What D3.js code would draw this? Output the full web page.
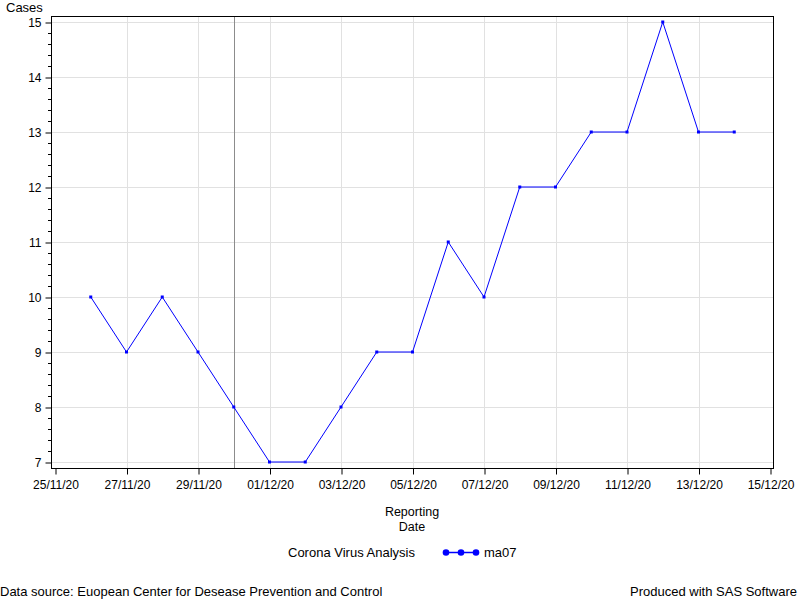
<!DOCTYPE html>
<html><head><meta charset="utf-8">
<script src="https://cdn.jsdelivr.net/npm/d3@7"></script>
<style>body{margin:0;background:#fff}text{font-family:"Liberation Sans",Arial,sans-serif;}</style>
</head><body><svg id="c" width="800" height="600"></svg>
<script>
const dates = ["2020-11-26","2020-11-27","2020-11-28","2020-11-29","2020-11-30","2020-12-01","2020-12-02","2020-12-03","2020-12-04","2020-12-05","2020-12-06","2020-12-07","2020-12-08","2020-12-09","2020-12-10","2020-12-11","2020-12-12","2020-12-13","2020-12-14"];
const ma07 = [10,9,10,9,8,7,7,8,9,9,11,10,12,12,13,13,15,13,13];
const xTickDates = ["2020-11-25","2020-11-27","2020-11-29","2020-12-01","2020-12-03","2020-12-05","2020-12-07","2020-12-09","2020-12-11","2020-12-13","2020-12-15"];
const yTicks = [7,8,9,10,11,12,13,14,15];
const refDate = "2020-11-30";

const svg = d3.select("#c");
const parse = d3.utcParse("%Y-%m-%d");
const fmt = d3.utcFormat("%d/%m/%y");
const L=51, R=773, T=16, B=468;
const day = 86400000;
const dayPx = (770-55)/20;
const d0 = parse("2020-11-25").getTime(), d1 = parse("2020-12-15").getTime();
const x = d3.scaleUtc().domain([new Date(d0 - 4/dayPx*day), new Date(d1 + 3/dayPx*day)]).range([L,R]);
const ppu = (462-22)/8;
const y = d3.scaleLinear().domain([7-6/ppu, 15+6/ppu]).range([B,T]);

// grid
const g = svg.append("g");
g.selectAll(".gx").data(xTickDates.slice(1,-1)).enter().append("line")
 .attr("x1",d=>Math.round(x(parse(d)))+0.5).attr("x2",d=>Math.round(x(parse(d)))+0.5)
 .attr("y1",T).attr("y2",B).attr("stroke","#e1e1e1").attr("stroke-width",1);
g.selectAll(".gy").data(yTicks).enter().append("line")
 .attr("y1",d=>Math.round(y(d))+0.5).attr("y2",d=>Math.round(y(d))+0.5)
 .attr("x1",L).attr("x2",R).attr("stroke","#e1e1e1").attr("stroke-width",1);

// reference line
svg.append("line").attr("x1",Math.round(x(parse(refDate)))+0.5).attr("x2",Math.round(x(parse(refDate)))+0.5)
 .attr("y1",T).attr("y2",B).attr("stroke","#8c8c8c").attr("stroke-width",1);

// frame
svg.append("rect").attr("x",L+0.5).attr("y",T+0.5).attr("width",R-L).attr("height",B-T)
 .attr("fill","none").attr("stroke","#000").attr("stroke-width",1);

// x axis
const xa = svg.append("g").attr("transform",`translate(0.5,${B+0.5})`)
 .call(d3.axisBottom(x).tickValues(xTickDates.map(parse)).tickFormat(fmt).tickSize(6).tickPadding(6));
xa.select(".domain").remove();
xa.selectAll("text").attr("font-size",12).attr("fill","#000").attr("font-family","Liberation Sans, Arial, sans-serif");
xa.selectAll("line").attr("stroke","#000");

// y axis
const minor = d3.range(7,15.001,0.2).filter(v=>Math.abs(v-Math.round(v))>1e-6);
svg.append("g").selectAll("line").data(minor).enter().append("line")
 .attr("x1",L-3).attr("x2",L).attr("y1",d=>Math.round(y(d))+0.5).attr("y2",d=>Math.round(y(d))+0.5).attr("stroke","#000");
const ya = svg.append("g").attr("transform",`translate(${L+0.5},0.5)`)
 .call(d3.axisLeft(y).tickValues(yTicks).tickFormat(d3.format("d")).tickSize(6).tickPadding(4));
ya.select(".domain").remove();
ya.selectAll("text").attr("font-size",12).attr("fill","#000").attr("font-family","Liberation Sans, Arial, sans-serif");
ya.selectAll("line").attr("stroke","#000");

// series
const pts = dates.map((d,i)=>[x(parse(d)), y(ma07[i])]);
svg.append("path").attr("d",d3.line()(pts)).attr("fill","none").attr("stroke","#0000ff").attr("stroke-width",1);
svg.append("g").selectAll("rect").data(pts).enter().append("rect")
 .attr("x",d=>d[0]-1.5).attr("y",d=>d[1]-1.5).attr("width",3).attr("height",3).attr("fill","#0000ff");

// labels
svg.append("text").attr("x",6).attr("y",12).attr("font-size",13).text("Cases");
svg.append("text").attr("x",412).attr("y",516).attr("text-anchor","middle").attr("font-size",12.5).text("Reporting");
svg.append("text").attr("x",412).attr("y",531).attr("text-anchor","middle").attr("font-size",12.5).text("Date");

// legend
svg.append("text").attr("x",288).attr("y",557).attr("font-size",13).text("Corona Virus Analysis");
svg.append("line").attr("x1",445).attr("x2",477).attr("y1",552.5).attr("y2",552.5).attr("stroke","#0000ff").attr("stroke-width",1.5);
[446,461,476].forEach(cx=>svg.append("circle").attr("cx",cx).attr("cy",552.5).attr("r",3.3).attr("fill","#0000ff"));
svg.append("text").attr("x",484).attr("y",557).attr("font-size",13).text("ma07");

// footer
svg.append("text").attr("x",0).attr("y",596).attr("font-size",13).text("Data source: Euopean Center for Desease Prevention and Control");
svg.append("text").attr("x",797).attr("y",596).attr("text-anchor","end").attr("font-size",13).text("Produced with SAS Software");
</script></body></html>
